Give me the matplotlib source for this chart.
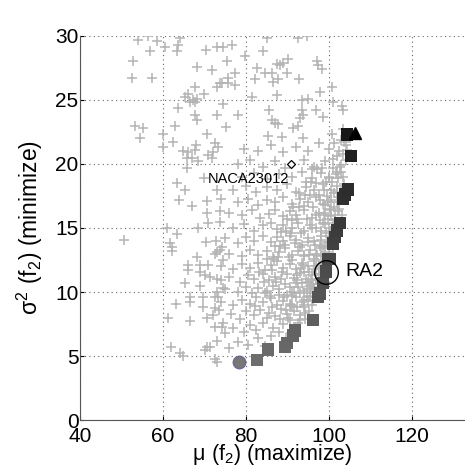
import matplotlib
matplotlib.use('Agg')
import matplotlib.pyplot as plt
from matplotlib.colors import Normalize

plt.rcParams['font.family'] = ['Liberation Sans', 'DejaVu Sans']

# sampled designs (gray crosses)
plus_x = [54, 56.4, 58.5, 60.5, 64.1, 63.6, 63.4, 56.9, 52.8, 52.5, 57.3, 68.2, 71.8, 70.4, 73,
          67.7, 69.9, 73, 73.7, 66, 65.3, 66.5, 67.2, 68.2, 67.7, 63.6, 67.7, 68.2, 73, 62.9,
          53.3, 55.2, 54.5, 60, 70.6,
          74.5, 76.6, 85.1, 92.5, 94.7, 79.8, 84.1, 75.4, 77.3, 75.7, 74.2, 75.7, 77.3, 82.6,
          84.6, 86.3, 82.2, 86.5, 87.7, 87.5, 88.2, 88.9, 90.1, 89.9, 92.8, 97.1, 97.3, 98.3,
          97.8, 100.7, 81.4, 87.5, 93.5, 94.9, 74.5, 85.5, 78.1, 86.3, 87, 87.7, 93.5, 93.7,
          93, 92.5, 91.3, 96.9, 98.6, 75.2, 85.3, 88.7, 93.7, 103.1, 103.4, 103.4, 101,
          60, 62.4, 64.8, 66, 67, 68, 67.7, 65.8, 70.8, 71.8, 68.4, 72.5, 73.3, 72, 65.8, 69.9,
          63.4, 65.3, 73, 63.9, 70.6, 67, 74, 70.6, 73.7, 70.8, 73.7, 61, 63.4, 68.4, 50.6,
          61.7, 62.2, 70.4, 72.8, 74.2,
          62.2, 68.2, 66, 66, 68.9, 68.9, 70.8, 70.1, 71.3, 72.5, 73, 73.7, 74.5, 74, 65.3,
          68.9, 74.5, 73, 72.5, 73.3, 66.5, 66.5, 69.6, 63.1, 69.6, 72.5, 73.5, 61.2, 66.5,
          70.6, 72, 72.5, 74.2, 74.5, 73, 70.6, 71.3, 70.1, 61.9, 64.1, 64.8, 72.5, 73,
          76, 78, 80.5, 83, 84.5, 86, 75,
          77, 79.5, 81, 82.5, 84, 86.5, 88, 89, 90.5, 85,
          76.5, 78.5, 80, 82, 83.5, 85.5, 87, 88.5, 90, 91.5, 93, 94, 92.5,
          74, 77, 79, 81, 82.5, 84, 86, 87.5, 89, 90.5, 92, 93.5, 95, 96, 96.5, 91, 88,
          75, 78, 80, 81.5, 83, 85, 86.5, 88, 89.5, 91, 92.5, 94, 95.5, 96.5, 97.5, 90, 93,
          73, 76, 78.5, 80.5, 82, 84, 85.5, 87, 88.5, 90, 91.5, 93, 94.5, 96, 97, 98, 92, 95,
          74, 77, 79, 81, 83, 84.5, 86, 87.5, 89, 90.5, 92, 93.5, 95, 96.5, 97.5, 98.5, 91, 94,
          76, 79, 81, 83, 85, 86.5, 88, 89.5, 91, 92.5, 94, 95.5, 97, 98, 99, 93,
          75, 78, 80, 82, 84, 86, 87.5, 89, 90.5, 92, 93.5, 95, 96.5, 98, 99.5, 100,
          77, 79.5, 82, 84, 86, 87.5, 89, 91, 92.5, 94, 95.5, 97, 98.5, 100, 101,
          76, 79, 81.5, 83.5, 85.5, 87, 89, 90.5, 92, 94, 96, 97.5, 99, 100.5, 101.5,
          78, 80.5, 83, 85, 87, 89, 91, 93, 95, 97, 99, 100.5, 102,
          77, 80, 82.5, 85, 87.5, 90, 92, 94.5, 96.5, 98.5, 100.5, 102, 103,
          79, 82, 85, 88, 91, 93.5, 96, 98, 100, 102, 103.5,
          78, 81, 84, 87, 89.5, 94, 96.5, 99, 101, 103, 104,
          79.5, 83, 86, 89, 92, 95, 97.5, 100, 102.5, 104, 105,
          97, 98, 99, 100.5, 101.5, 102.5, 97.5, 96, 95.5, 94,
          85.8, 87.2, 88.7, 90.3, 91.8, 93.2, 94.7, 96.2, 97.7, 99.2, 86.7, 88.2, 89.7, 91.2,
          92.7, 94.2, 95.7, 97.2, 89.2, 90.7, 92.2, 93.7, 95.2, 96.7, 98.2, 99.7, 101.2, 102.5,
          90.1, 92.3, 94.6, 96.8, 98.9, 99.9, 100.9, 101.8, 103.1, 103.6, 84.3, 86.2, 87.8,
          89.3, 90.8, 92.4, 93.9, 95.4, 96.9, 98.4, 83.1, 85.1, 86.9, 88.4, 89.8, 91.4, 92.9,
          94.4, 95.9, 82.3, 84.7, 86.3, 88.1, 89.6, 91.1, 93.6, 95.1, 96.4, 97.9,
          98.5, 99.6, 100.8, 101.6, 102.6, 103.4, 101.9, 100.2, 99.1, 98.1, 97.2, 96.3, 95.6,
          94.8, 93.9, 97.9, 98.8, 99.8, 100.6, 99.4, 98.6, 97.6, 96.9, 96.1, 95.4, 94.2, 93.1,
          91.9, 90.8, 89.6, 101.3, 102.3, 103.0, 102.0, 100.9, 99.9, 98.9, 97.9, 96.9, 95.9,
          95.0, 94.1, 93.2, 92.4, 91.6, 90.8, 100.4, 101.2, 102.1, 99.2, 98.3, 97.1, 96.2,
          95.3, 94.2, 104.3, 103.7, 102.8, 101.3, 100.7]
plus_y = [29.7, 30, 29.6, 29.1, 29.8, 29.3, 28.8, 28.8, 28.0, 26.7, 26.7, 27.6, 27.3, 28.9, 29.1,
          26.0, 25.5, 26, 26.3, 25.5, 25.2, 24.8, 25, 25.1, 24.8, 24.4, 23.8, 23.4, 23.8, 23,
          23, 22.8, 22.0, 22.3, 22.3,
          29.1, 29.3, 29.8, 29.8, 30, 28.4, 28.8, 28.0, 27.1, 26.7, 26.3, 26.3, 26.2, 27.5,
          27.1, 27.1, 26.6, 26.4, 26.6, 27.8, 27.7, 27.9, 28.2, 27.1, 26.6, 28.0, 27.7, 27.4,
          25.6, 26.0, 25.2, 25.4, 25, 25.1, 24.7, 24.2, 23.8, 23.4, 23.2, 23.1, 24.2, 23.8,
          23.6, 23, 22.8, 24.2, 23.7, 22.9, 22.2, 22.1, 22.0, 24.5, 24.2, 22.7, 24.8,
          21.3, 21.7, 21.0, 20.9, 20.5, 21.5, 21.1, 20.5, 20.7, 20.5, 20.2, 21.6, 21.3, 20.9,
          19.7, 18.9, 18.5, 18.0, 18.0, 17.2, 17.1, 16.7, 17.3, 16.2, 16.3, 15.4, 15.5, 15,
          14.5, 15, 14.1, 13.8, 13.5, 13.9, 14.0, 13.5,
          13.2, 12.7, 12.1, 11.7, 12.1, 11.6, 12.1, 11.3, 11.2, 13, 13.1, 13.3, 12.5, 10.9,
          10.7, 10.5, 10.3, 10, 9.6, 9.6, 9.6, 9.2, 9.6, 9.1, 8.8, 8.75, 8.6, 8.0, 7.7, 8.0,
          8.2, 7.3, 7.3, 7.6, 6.2, 5.7, 5.7, 5.5, 5.7, 5.2, 5.0, 4.8, 4.5,
          5.6, 6.1, 5.9, 6.4, 5.8, 6.6, 6.8,
          7.2, 6.9, 7.4, 7.0, 7.6, 7.2, 6.9, 7.5, 7.8, 8.0,
          8.3, 7.9, 8.5, 8.2, 8.6, 8.4, 8.1, 8.7, 8.3, 8.5, 8.2, 8.8, 7.6,
          9.2, 9.0, 9.4, 9.1, 9.6, 9.2, 9.5, 9.0, 9.3, 9.1, 9.6, 9.2, 9.4, 9.0, 9.6, 8.9, 9.8,
          10.2, 10.0, 10.4, 9.9, 10.3, 10.1, 10.5, 10.2, 10.6, 10.0, 10.4, 10.1, 10.5, 10.2,
          10.6, 9.8, 9.9,
          11.0, 11.2, 10.8, 11.3, 11.0, 11.4, 10.9, 11.2, 11.0, 11.4, 11.1, 11.5, 11.0, 11.3,
          11.0, 11.4, 10.7, 10.8,
          12.0, 11.8, 12.2, 11.9, 12.3, 11.7, 12.1, 12.4, 11.9, 12.2, 11.8, 12.3, 12.0, 12.4,
          11.9, 12.3, 12.5, 11.6,
          13.0, 12.8, 13.3, 12.9, 13.2, 12.7, 13.1, 13.4, 12.9, 13.2, 12.8, 13.3, 13.0, 13.4,
          12.9, 13.5,
          14.2, 13.8, 14.3, 14.0, 14.4, 13.9, 14.3, 14.0, 14.4, 14.1, 13.7, 14.2, 14.0, 14.4,
          13.9, 14.4,
          15.0, 15.3, 14.8, 15.2, 15.4, 14.9, 15.2, 15.0, 15.4, 14.8, 15.2, 15.0, 15.4, 15.0, 15.4,
          16.2, 16.0, 16.4, 15.8, 16.1, 16.4, 15.9, 16.3, 16.0, 16.4, 15.8, 16.2, 16.0, 16.4, 16.0,
          17.0, 17.3, 16.8, 17.2, 17.0, 17.4, 16.9, 17.3, 17.0, 17.4, 16.8, 17.2, 17.0,
          18.0, 18.3, 17.8, 18.2, 18.0, 18.4, 17.8, 18.2, 18.0, 18.4, 18.0, 18.3, 17.8,
          19.0, 19.3, 18.8, 19.2, 19.0, 19.4, 18.9, 19.3, 19.0, 19.4, 19.0,
          20.0, 20.3, 19.8, 20.2, 19.7, 20.3, 19.8, 20.2, 20.4, 19.9, 20.3,
          21.2, 21.0, 21.5, 20.9, 21.3, 21.0, 21.6, 21.2, 21.0, 21.5, 22.0,
          12.0, 12.8, 13.6, 14.8, 15.6, 16.5, 11.3, 10.4, 9.7, 9.0,
          9.7, 10.8, 11.6, 12.7, 13.8, 14.6, 15.7, 16.6, 17.6, 18.6, 12.6, 13.6, 14.8, 15.6,
          16.6, 17.6, 18.6, 19.6, 9.6, 10.4, 11.3, 12.1, 12.9, 13.7, 14.8, 15.7, 16.6, 17.4,
          8.0, 8.8, 9.6, 10.9, 12.1, 13.1, 13.6, 14.6, 16.0, 18.4, 10.8, 11.7, 12.7,
          13.7, 14.6, 15.7, 16.7, 17.6, 18.5, 19.7, 11.6, 12.6, 13.6, 14.7, 15.7, 16.6, 17.7,
          18.6, 19.6, 8.9, 9.9, 8.8, 7.9, 8.6, 9.7, 10.7, 11.6, 12.6, 13.6,
          16.9, 17.5, 18.6, 19.2, 19.8, 20.8, 17.8, 16.5, 15.3, 14.1, 12.9, 11.8, 10.9,
          10.2, 9.4, 15.6, 16.2, 17.0, 15.9, 14.6, 13.4, 12.2, 11.4, 10.6, 9.9, 8.4, 7.8,
          7.3, 6.8, 6.4, 17.7, 18.9, 19.4, 20.6, 19.7, 18.9, 18.0, 17.2, 16.0, 15.0,
          13.9, 12.9, 11.9, 10.9, 9.9, 9.0, 13.8, 14.9, 16.3, 12.5, 11.0, 9.9, 9.3,
          8.5, 7.9, 21.1, 21.7, 21.9, 21.6, 22.3]

# non-dominated front (squares)
front_x = [82.6, 85.3, 89.4, 89.9, 91.3, 91.8, 96.1, 97.3, 97.8, 98.6, 99.3, 99.8, 100.2,
           101.0, 101.4, 101.9, 102.7, 103.4, 103.9, 104.6, 105.3, 104.3]
front_y = [4.7, 5.5, 5.7, 6.0, 6.6, 7.0, 7.8, 9.6, 9.9, 10.7, 11.6, 12.6, 12.6,
           13.8, 14.3, 14.8, 15.4, 17.3, 17.6, 18.0, 20.6, 22.3]

extreme_lo = (78.3, 4.5)
extreme_hi = (106.3, 22.4)
naca = (90.8, 20.0)
ra2 = (99.3, 11.6)

fig = plt.figure(figsize=(4.65, 4.72), dpi=100)
ax = fig.add_axes([0.172, 0.110, 0.828, 0.814])

ax.plot(plus_x, plus_y, '+', color='#b4b4b4', markersize=6.5, markeredgewidth=1.1, zorder=2)
ax.scatter(front_x, front_y, c=front_y, cmap='gray_r', norm=Normalize(-25.2, 27.2),
           marker='s', s=80, edgecolors='none', zorder=3)
ax.plot(*extreme_lo, 'o', color='#777777', markeredgecolor='#6a6a9a', markersize=9, zorder=4)
ax.plot(*extreme_hi, '^', color='black', markersize=9, zorder=4)
ax.plot(*naca, 'D', markerfacecolor='white', markeredgecolor='black', markersize=4,
        markeredgewidth=0.9, zorder=4)
ax.plot(*ra2, 'o', markerfacecolor='none', markeredgecolor='black', markersize=17,
        markeredgewidth=1.0, zorder=5)

ax.text(70.8, 18.8, 'NACA23012', fontsize=10.5, va='center', ha='left')
ax.text(103.9, 11.6, 'RA2', fontsize=14, va='center', ha='left')

ax.set_xlim(40, 132.8)
ax.set_ylim(0, 30)
ax.set_xticks([40, 60, 80, 100, 120])
ax.set_yticks([0, 5, 10, 15, 20, 25, 30])
ax.tick_params(labelsize=15, direction='in', length=3, pad=1)
ax.tick_params(axis='x', pad=5)
ax.grid(True, linestyle=(0, (1, 3)), color='#666666', linewidth=0.8)
ax.set_axisbelow(True)
for s in ['top', 'right']:
    ax.spines[s].set_visible(False)
ax.spines['left'].set_color('#555555')
ax.spines['bottom'].set_color('#555555')

ax.set_xlabel(r'$\mathregular{\mu\ (f_2)}$ (maximize)', fontsize=15.5, labelpad=-3)
ax.set_ylabel(r'$\mathregular{\sigma^2\ (f_2)}$ (minimize)', fontsize=16.5, labelpad=7)

fig.savefig('out.png', dpi=100)
